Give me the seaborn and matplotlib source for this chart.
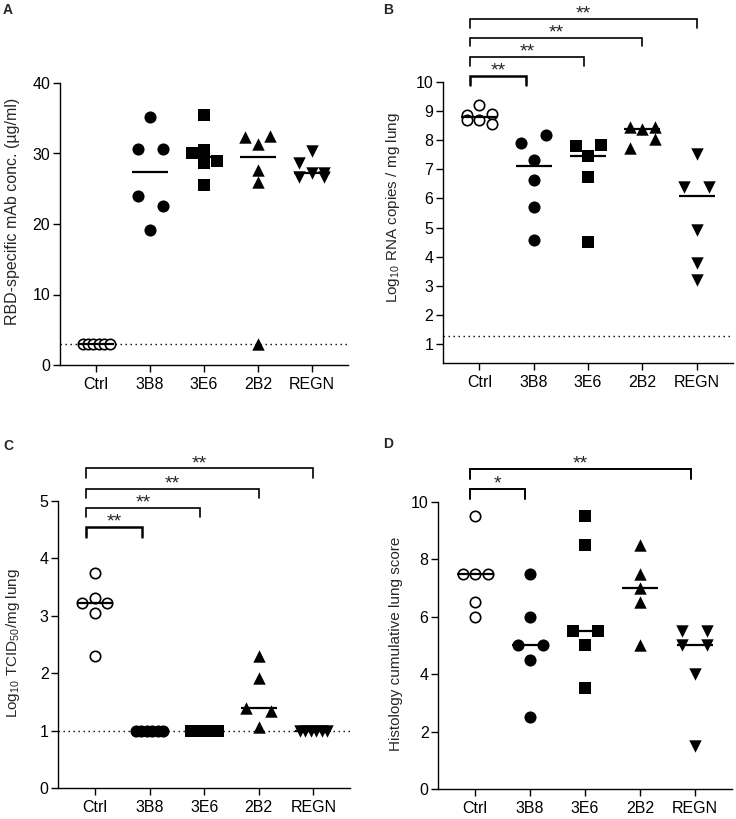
import numpy as np
import matplotlib
matplotlib.use("Agg")
import matplotlib.pyplot as plt
import seaborn as sns

groups = ["Ctrl", "3B8", "3E6", "2B2", "REGN"]

# values, one list per group (left-to-right order inside a row)
rbd_conc = [
    [3.0, 3.0, 3.0, 3.0, 3.0, 3.0],
    [35.2, 30.7, 30.7, 24.0, 22.6, 19.1],
    [35.5, 30.0, 30.5, 29.0, 28.7, 25.6],
    [32.3, 31.3, 32.5, 27.7, 25.9, 3.0],
    [30.4, 28.6, 27.2, 27.2, 26.7, 26.7],
]
rna_log = [
    [8.86, 9.2, 8.9, 8.69, 8.69, 8.54],
    [7.9, 8.16, 7.33, 6.62, 5.7, 4.56],
    [7.78, 7.44, 7.46, 7.84, 6.72, 4.5],
    [8.46, 8.37, 8.44, 7.72, 8.05],
    [7.52, 6.38, 6.38, 4.93, 3.79, 3.2],
]
tcid_log = [
    [3.74, 3.23, 3.30, 3.23, 3.04, 2.30],
    [1.0, 1.0, 1.0, 1.0, 1.0, 1.0],
    [1.0, 1.0, 1.0, 1.0, 1.0, 1.0],
    [2.30, 1.91, 1.39, 1.35, 1.06],
    [1.0, 1.0, 1.0, 1.0, 1.0, 1.0],
]
histo_score = [
    [9.5, 7.5, 7.5, 7.5, 6.5, 6.0],
    [7.5, 6.0, 5.0, 5.0, 4.5, 2.5],
    [9.5, 8.5, 5.5, 5.5, 5.0, 3.5],
    [8.5, 7.5, 7.0, 6.5, 5.0],
    [5.5, 5.5, 5.0, 5.0, 4.0, 1.5],
]
limit_a, limit_b, limit_c = 3.0, 1.3, 1.0

# comparisons against Ctrl: (group index, stars)
comp_b = [(1, "**"), (2, "**"), (3, "**"), (4, "**")]
comp_c = [(1, "**"), (2, "**"), (3, "**"), (4, "**")]
comp_d = [(1, "*"), (4, "**")]

sns.set_style("ticks")
plt.rcParams["font.family"] = ["Liberation Sans", "DejaVu Sans"]
plt.rcParams["mathtext.default"] = "regular"
plt.rcParams["axes.linewidth"] = 1.0
plt.rcParams["xtick.major.width"] = 1.0
plt.rcParams["ytick.major.width"] = 1.0
plt.rcParams["xtick.major.size"] = 5
plt.rcParams["ytick.major.size"] = 5
plt.rcParams["xtick.color"] = "black"
plt.rcParams["ytick.color"] = "black"
plt.rcParams["axes.edgecolor"] = "black"

markers = ["o", "o", "s", "^", "v"]
faces = ["white", "black", "black", "black", "black"]

fig = plt.figure(figsize=(7.36, 8.19), dpi=100)
W, H = 736, 819


def px_axes(x0, x1, top, bottom):
    return fig.add_axes([x0 / W, 1 - bottom / H, (x1 - x0) / W, (bottom - top) / H])


def column_x(ax, i, vals, d=11.5, step=12.5, max_half=13.5):
    # Prism-style column scatter: near-equal values form a centred row
    vals = np.asarray(vals, float)
    tr = ax.transData.transform
    ypx = tr(np.column_stack([np.full(len(vals), i), vals]))[:, 1]
    x_unit = tr([[1, 0]])[0, 0] - tr([[0, 0]])[0, 0]
    order = np.argsort(-vals, kind="stable")
    off = np.zeros(len(vals))
    k = 0
    while k < len(order):
        row = [order[k]]
        j = k + 1
        while j < len(order) and ypx[order[k]] - ypx[order[j]] < d:
            row.append(order[j])
            j += 1
        row.sort()
        n = len(row)
        slots = np.array([-1.0, 1.0]) if n == 2 else np.arange(n) - (n - 1) / 2
        px = slots * step
        if n > 1 and np.abs(px).max() > max_half:
            px *= max_half / np.abs(px).max()
        off[row] = px / x_unit
        k = j
    return i + off


def draw_panel(ax, data, ylim, yticks, ylabel, limit, label_xy, log_median=False,
               label_size=11):
    ax.set_xlim(-0.67, 4.67)
    ax.set_ylim(*ylim)
    ax.axhline(limit, color="black", lw=1.0, ls=(0, (1, 2.6)), zorder=1)
    for i, vals in enumerate(data):
        xs = column_x(ax, i, vals)
        open_mark = faces[i] == "white"
        ms = {"o": 76, "s": 66, "^": 80, "v": 80}[markers[i]]
        if open_mark:
            ms = 56
        sns.scatterplot(x=xs, y=vals, marker=markers[i], s=ms, color=faces[i],
                        edgecolor="black", linewidth=1.2 if open_mark else 0,
                        ax=ax, legend=False, zorder=3, clip_on=False)
        v = np.asarray(vals)
        med = np.log10(np.median(10 ** v)) if log_median else np.median(v)
        ax.plot([i - 0.33, i + 0.33], [med, med], color="black", lw=1.6, zorder=4,
                solid_capstyle="butt")
    ax.set_xticks(range(len(groups)))
    ax.set_xticklabels(groups)
    ax.set_yticks(yticks)
    ax.tick_params(axis="x", labelsize=11.5, pad=3.5)
    ax.tick_params(axis="y", labelsize=11.5, pad=2)
    ax.set_xlabel("")
    ax.set_ylabel(ylabel, fontsize=label_size)
    ax.yaxis.set_label_coords(*label_xy)
    sns.despine(ax=ax)


def draw_brackets(ax, comps, x0, x1s, ys, drop, widths):
    for (j, stars), x1, y, lw in zip(comps, x1s, ys, widths):
        ax.plot([x0, x0, x1, x1], [y - drop, y, y, y - drop], color="black", lw=lw,
                clip_on=False, solid_joinstyle="miter")
        ax.annotate(stars, xy=((x0 + x1) / 2, y), xytext=(0, 0.3), textcoords="offset points",
                    ha="center", va="baseline", fontsize=14, annotation_clip=False)


ax_a = px_axes(60, 348, 83, 365)
draw_panel(ax_a, rbd_conc, (0, 40), [0, 10, 20, 30, 40],
           "RBD-specific mAb conc. (µg/ml)", limit_a, (-0.139, 0.544), label_size=11.5)

ax_b = px_axes(443, 733, 81.7, 363.3)
draw_panel(ax_b, rna_log, (0.35, 10), range(1, 11),
           r"Log$_{10}$ RNA copies / mg lung", limit_b, (-0.142, 0.551), log_median=True)
draw_brackets(ax_b, comp_b, -0.17, [0.86, 1.93, 3.0, 4.0], [10.19, 10.85, 11.51, 12.14],
              0.3, [1.8, 1.2, 1.2, 1.2])

ax_c = px_axes(58.3, 350, 500.7, 788.3)
draw_panel(ax_c, tcid_log, (0, 5), range(0, 6),
           r"Log$_{10}$ TCID$_{50}$/mg lung", limit_c, (-0.125, 0.504), log_median=True)
draw_brackets(ax_c, comp_c, -0.16, [0.87, 1.93, 3.0, 4.0], [4.54, 4.88, 5.21, 5.56],
              0.17, [1.8, 1.2, 1.2, 1.2])

ax_d = px_axes(438.3, 731.7, 501.7, 789)
draw_panel(ax_d, histo_score, (0, 10), range(0, 11, 2),
           "Histology cumulative lung score", -10, (-0.119, 0.507))
draw_brackets(ax_d, comp_d, -0.1, [0.91, 3.93], [10.43, 11.14], 0.35, [1.4, 1.4])

for letter, x, y in [("A", 2.7, 14), ("B", 383, 14), ("C", 3, 450), ("D", 383.3, 448.3)]:
    fig.text(x / W, 1 - y / H, letter, fontsize=10, fontweight="bold", va="baseline")

fig.savefig("out.png", dpi=100)
